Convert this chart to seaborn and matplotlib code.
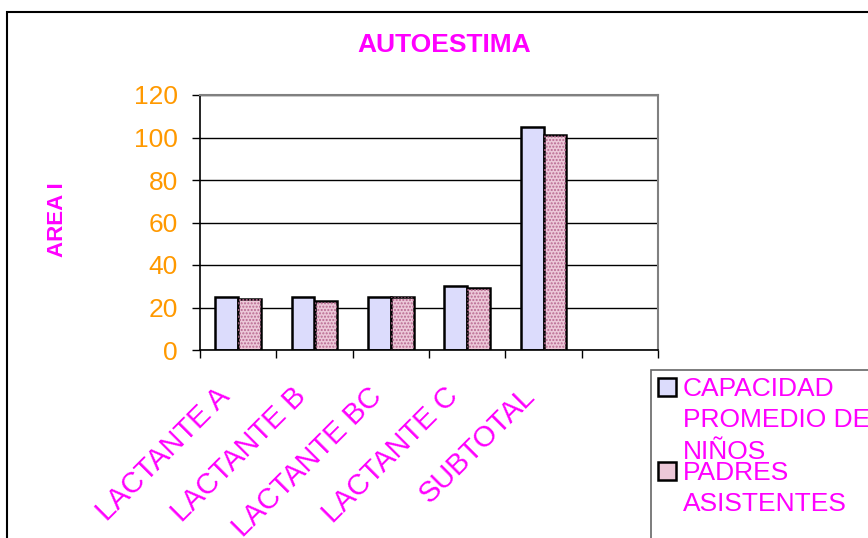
import pandas as pd
import matplotlib
matplotlib.use('Agg')
import matplotlib.pyplot as plt
import matplotlib.patches as mpatches
import matplotlib.transforms as mtransforms
from matplotlib.legend_handler import HandlerPatch
import seaborn as sns

categories = ['LACTANTE A', 'LACTANTE B', 'LACTANTE BC', 'LACTANTE C', 'SUBTOTAL', '']
capacidad = [25, 25, 25, 30, 105, None]
padres = [24, 23, 25, 29, 101, None]
series = ['CAPACIDAD\nPROMEDIO DE\nNIÑOS', 'PADRES\nASISTENTES\n']

df = pd.DataFrame({
    'categoria': categories * 2,
    'valor': capacidad + padres,
    'serie': [series[0]] * 6 + [series[1]] * 6,
})

sns.set_style('white')
plt.rcParams['font.family'] = ['Liberation Sans', 'DejaVu Sans']
plt.rcParams['hatch.linewidth'] = 1.0

magenta = '#ff00ff'
orange = '#ff9900'
lav = '#dcdcfc'
pink = '#ecc8d8'
dots = '#b86890'


class TopHandler(HandlerPatch):
    # put the legend square next to the first line of a multi-line label
    def __init__(self, shift):
        super().__init__()
        self.shift = shift

    def create_artists(self, legend, orig_handle, xdescent, ydescent, width, height,
                       fontsize, trans):
        p = mpatches.Rectangle((-xdescent, -ydescent + self.shift), width, height)
        self.update_prop(p, orig_handle, legend)
        p.set_transform(trans)
        return [p]


fig = plt.figure(figsize=(8.68, 5.38), dpi=100)
ax = fig.add_axes([200 / 868, 1 - 350 / 538, 458 / 868, 255 / 538])

sns.barplot(data=df, x='categoria', y='valor', hue='serie', order=categories,
            palette=[lav, pink], width=0.6, edgecolor='black', linewidth=1.8,
            saturation=1, ax=ax, legend=False)

# dotted pattern on the second series
for p in ax.containers[1]:
    ax.add_patch(mpatches.Rectangle(p.get_xy(), p.get_width(), p.get_height(),
                                    facecolor='none', edgecolor=dots, linewidth=0,
                                    hatch='.....', zorder=p.get_zorder() + 0.1))

ax.set_ylim(0, 120)
ax.set_xlim(-0.5, 5.5)
ax.set_yticks(range(0, 121, 20))
ax.yaxis.grid(True, color='black', linewidth=1)
ax.set_axisbelow(True)
ax.tick_params(axis='y', labelcolor=orange, color='black', labelsize=19, length=6,
               width=1, pad=10, left=True)
ax.set_xticks(range(6))
ax.set_xticklabels(categories, rotation=45, ha='right', va='center',
                   rotation_mode='anchor', color=magenta, fontsize=21)
ax.tick_params(axis='x', length=0, pad=30)
ax.set_xticks([i - 0.5 for i in range(7)], minor=True)
ax.tick_params(axis='x', which='minor', length=6, width=1, color='black', bottom=True)
shift = mtransforms.ScaledTranslation(-13 / 100, 0, fig.dpi_scale_trans)
for lab in ax.get_xticklabels():
    lab.set_transform(lab.get_transform() + shift)
ax.set_xlabel('')
ax.set_ylabel('AREA I', color=magenta, fontsize=16, fontweight='bold')
ax.yaxis.set_label_coords(-0.288, 0.51)

for side in ['top', 'right']:
    ax.spines[side].set_color('#808080')
    ax.spines[side].set_linewidth(1.5)
for side in ['left', 'bottom']:
    ax.spines[side].set_color('black')
    ax.spines[side].set_linewidth(1.2)

fig.text(444 / 868, 1 - 45 / 538, 'AUTOESTIMA', color=magenta, fontsize=19,
         fontweight='bold', ha='center', va='center')

h1 = mpatches.Patch(facecolor=lav, edgecolor='black', linewidth=1.8)
h2 = mpatches.Patch(facecolor=pink, edgecolor='black', linewidth=1.8)
leg = fig.legend([h1, h2], series, loc='upper left', bbox_to_anchor=(651 / 868, 1 - 370 / 538),
                 frameon=True, fancybox=False, fontsize=19, labelcolor=magenta,
                 handlelength=0.68, handleheight=0.68, handletextpad=0.27,
                 labelspacing=-0.11, borderpad=0.25, borderaxespad=0,
                 handler_map={h1: TopHandler(24), h2: TopHandler(24)})
leg.get_frame().set_edgecolor('#404040')
leg.get_frame().set_linewidth(1.2)
for t in leg.get_texts():
    t.set_linespacing(1.4)

# outer chart border, cut by the image edge on the right and bottom
fig.patches.append(mpatches.Rectangle((7 / 868, -0.1), 1.2, 1.1 - 12 / 538, fill=False,
                                      edgecolor='black', linewidth=1.5,
                                      transform=fig.transFigure, figure=fig))

fig.savefig('out.png', dpi=100)
